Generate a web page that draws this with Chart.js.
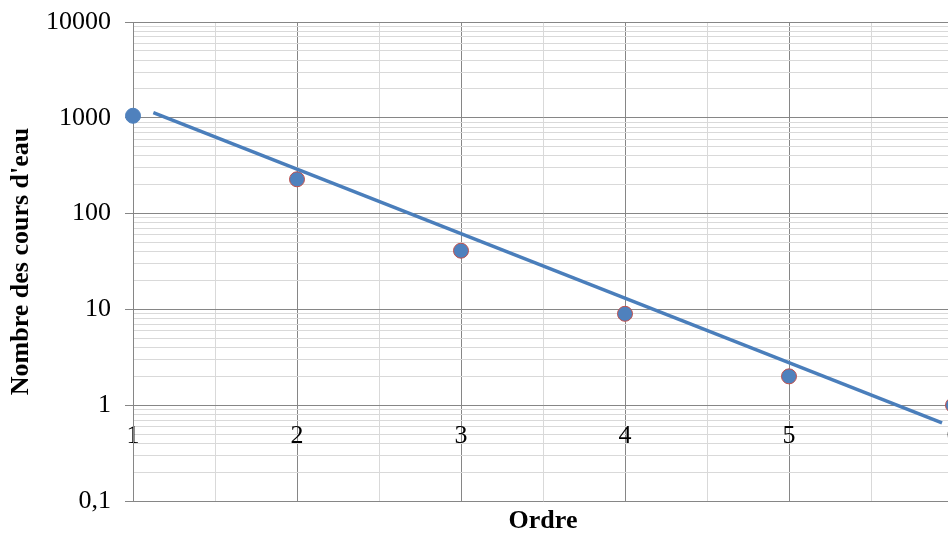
<!DOCTYPE html>
<html>
<head>
<meta charset="utf-8">
<script src="https://cdn.jsdelivr.net/npm/chart.js@4/dist/chart.umd.min.js"></script>
<style>
  html, body { margin: 0; padding: 0; background: #ffffff; overflow: hidden; }
  #wrap { position: relative; width: 1000px; height: 534px; }
</style>
</head>
<body>
<div id="wrap"><canvas id="c"></canvas></div>
<script>
// ---- data ----
const orders = [1, 2, 3, 4, 5, 6];
const streamCounts = [1050, 228, 41, 9, 2, 1];
const trendOrders = [1.124, 5.933];
const trendCounts = [1130, 0.652];
const yTickDecades = [0.1, 1, 10, 100, 1000, 10000];
const xTickLabels = ['1', '2', '3', '4', '5', '6'];
const xTitle = 'Ordre';
const yTitle = "Nombre des cours d'eau";

const MAJOR = '#868686';
const MINOR = '#d9d9d9';
const FONT = 'Liberation Serif';

Chart.defaults.font.family = FONT;
Chart.defaults.color = '#000000';

function isDecade(v) {
  const l = Math.log10(v);
  return Math.abs(l - Math.round(l)) < 1e-9;
}
function fmt(v) {
  return String(v).replace('.', ',');
}

const scatterData = orders.map((o, i) => ({ x: o, y: streamCounts[i] }));
const trendData = trendOrders.map((o, i) => ({ x: o, y: trendCounts[i] }));

new Chart(document.getElementById('c'), {
  type: 'scatter',
  data: {
    datasets: [
      {
        type: 'line',
        label: 'trend',
        data: trendData,
        borderColor: '#4A7EBB',
        borderWidth: 3.5,
        pointRadius: 0,
        fill: false,
        order: 0
      },
      {
        label: 'cours',
        data: scatterData,
        backgroundColor: '#4F81BD',
        borderColor: orders.map((o, i) => i === 0 ? '#4F81BD' : '#C0504D'),
        borderWidth: 1,
        pointRadius: 7.5,
        pointHoverRadius: 7.5,
        clip: false,
        order: 1
      }
    ]
  },
  options: {
    responsive: true,
    maintainAspectRatio: false,
    animation: false,
    layout: { padding: { left: 0, right: 47, top: 22, bottom: 0 } },
    plugins: {
      legend: { display: false },
      tooltip: { enabled: false },
      title: {
        display: true,
        text: xTitle,
        position: 'bottom',
        fullSize: false,
        color: '#000000',
        font: { family: FONT, size: 26, weight: 'bold', lineHeight: 1 },
        padding: { top: 7, bottom: 0 }
      }
    },
    scales: {
      x: {
        type: 'linear',
        position: { y: 1 },
        min: 1,
        max: 6,
        afterBuildTicks: (scale) => {
          const t = [];
          for (let i = 0; i < xTickLabels.length; i++) {
            t.push({ value: orders[i] });
            if (i < xTickLabels.length - 1) t.push({ value: orders[i] + 0.5 });
          }
          scale.ticks = t;
        },
        ticks: {
          autoSkip: false,
          maxRotation: 0,
          padding: 15,
          color: '#000000',
          font: { family: FONT, size: 26, lineHeight: 1.2 },
          callback: (v) => {
            const idx = orders.indexOf(v);
            return idx >= 0 ? xTickLabels[idx] : '';
          }
        },
        grid: {
          drawTicks: false,
          color: (ctx) => (ctx.tick && Number.isInteger(ctx.tick.value)) ? MAJOR : MINOR,
          lineWidth: 1
        },
        border: { display: true, color: MAJOR, width: 1 }
      },
      y: {
        type: 'logarithmic',
        position: 'left',
        min: 0.1,
        max: 10000,
        afterBuildTicks: (scale) => {
          const t = [];
          for (let d = 0; d < yTickDecades.length; d++) {
            const base = yTickDecades[d];
            t.push({ value: base });
            if (d < yTickDecades.length - 1) {
              for (let k = 2; k <= 9; k++) t.push({ value: k * base });
            }
          }
          scale.ticks = t;
        },
        afterFit: (scale) => {
          scale.width = 133;
          scale.paddingTop = 0;
          scale.paddingBottom = 0;
        },
        ticks: {
          autoSkip: false,
          padding: 14,
          color: '#000000',
          font: { family: FONT, size: 26, lineHeight: 1.2 },
          callback: (v) => isDecade(v) ? fmt(v) : ''
        },
        grid: {
          drawTicks: true,
          tickLength: 8,
          color: (ctx) => (ctx.tick && isDecade(ctx.tick.value)) ? MAJOR : MINOR,
          tickColor: (ctx) => (ctx.tick && isDecade(ctx.tick.value)) ? MAJOR : 'rgba(0,0,0,0)',
          lineWidth: 1
        },
        border: { display: true, color: MAJOR, width: 1 },
        title: {
          display: true,
          text: yTitle,
          color: '#000000',
          font: { family: FONT, size: 26, weight: 'bold', lineHeight: 1.2 },
          padding: { top: 6, bottom: 0 }
        }
      }
    }
  }
});
</script>
</body>
</html>
